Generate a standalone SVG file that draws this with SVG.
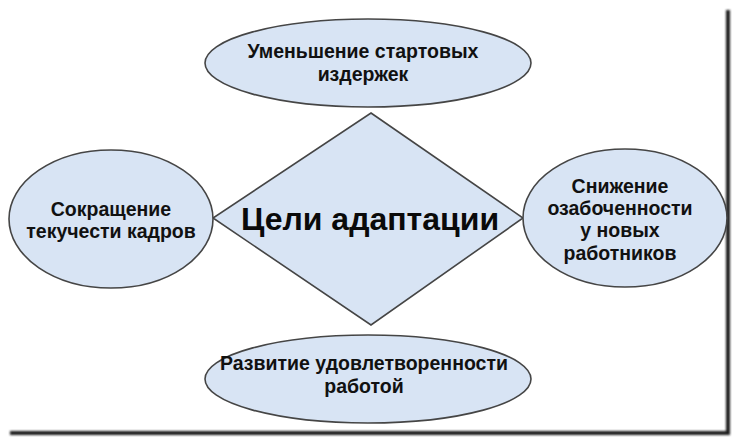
<svg xmlns="http://www.w3.org/2000/svg" width="735" height="441" viewBox="0 0 735 441">
  <defs>
    <filter id="soft" x="-5%" y="-5%" width="110%" height="110%">
      <feGaussianBlur stdDeviation="0.9"/>
    </filter>
  </defs>
  <style>
    .shape { fill: #d8e4f4; stroke: #454545; stroke-width: 1.6; }
    .lbl { font-family: "Liberation Sans", Arial, sans-serif; font-weight: bold; font-size: 19.5px; fill: #111; text-anchor: middle; }
    .title { font-family: "Liberation Sans", Arial, sans-serif; font-weight: bold; font-size: 32px; fill: #0a0a0a; text-anchor: middle; }
    .frame { fill: none; stroke: #1c1c1c; stroke-width: 4; }
  </style>
  <rect x="0" y="0" width="735" height="441" fill="#ffffff"/>

  <g id="frame" filter="url(#soft)">
    <path class="frame" d="M728,10 L728,433 L10,433"/>
  </g>

  <g id="node-center">
    <polygon class="shape" points="371,113 523,218 371,325 213,218"/>
    <text class="title" x="370" y="230">Цели адаптации</text>
  </g>

  <g id="node-top">
    <ellipse class="shape" cx="368" cy="63" rx="163" ry="44"/>
    <text class="lbl" x="363" y="58">Уменьшение стартовых</text>
    <text class="lbl" x="363" y="81">издержек</text>
  </g>

  <g id="node-left">
    <ellipse class="shape" cx="111" cy="219" rx="102" ry="69"/>
    <text class="lbl" x="111" y="216">Сокращение</text>
    <text class="lbl" x="111" y="238">текучести кадров</text>
  </g>

  <g id="node-right">
    <ellipse class="shape" cx="625" cy="218" rx="102" ry="69"/>
    <text class="lbl" x="620" y="193">Снижение</text>
    <text class="lbl" x="620" y="215">озабоченности</text>
    <text class="lbl" x="620" y="237">у новых</text>
    <text class="lbl" x="620" y="260">работников</text>
  </g>

  <g id="node-bottom">
    <ellipse class="shape" cx="368" cy="379" rx="163" ry="44"/>
    <text class="lbl" x="364" y="370">Развитие удовлетворенности</text>
    <text class="lbl" x="364" y="393">работой</text>
  </g>
</svg>
